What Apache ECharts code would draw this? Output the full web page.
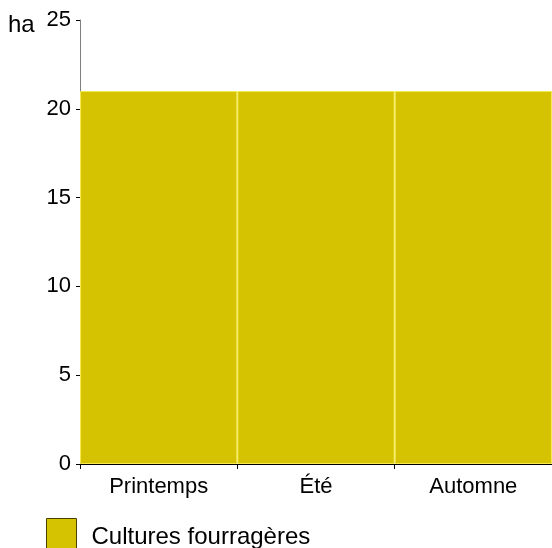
<!DOCTYPE html>
<html><head><meta charset="utf-8">
<script src="https://cdn.jsdelivr.net/npm/echarts@6/dist/echarts.min.js"></script>
<style>html,body{margin:0;padding:0;background:#fff}#c{width:552px;height:548px}</style>
</head><body><div id="c"></div>
<script>
const categories = ['Printemps', 'Été', 'Automne'];
const values = [21, 21, 21];
const seriesName = 'Cultures fourragères';
const yTicks = [0, 5, 10, 15, 20, 25];

const FF = 'Liberation Sans, Arial, sans-serif';
const chart = echarts.init(document.getElementById('c'), null, {renderer: 'canvas'});
chart.setOption({
  animation: false,
  textStyle: {fontFamily: FF},
  grid: {left: 80, right: 0, top: 20, bottom: 84, containLabel: false},
  graphic: [{type: 'text', left: 8, top: 13, style: {text: 'ha', font: '24px ' + FF, fill: '#000'}}],
  legend: {
    left: 46, top: 518, padding: 0, itemWidth: 30, itemHeight: 30, itemGap: 10,
    formatter: '{t|{name}}',
    textStyle: {fontSize: 24, color: '#000', fontFamily: FF, padding: [0, 0, 0, 10],
      rich: {t: {fontSize: 24, color: '#000', fontFamily: FF, padding: [8, 0, 0, 0]}}},
    data: [{name: seriesName, icon: 'rect', itemStyle: {borderColor: '#4a4200', borderWidth: 1}}]
  },
  xAxis: {
    type: 'category', data: categories,
    axisLine: {lineStyle: {color: '#000', width: 1}},
    axisTick: {show: true, alignWithLabel: false, length: 5, lineStyle: {color: '#000'}},
    axisLabel: {fontSize: 22, color: '#000', margin: 12}
  },
  yAxis: {
    type: 'value', min: yTicks[0], max: yTicks[yTicks.length - 1], interval: 5,
    axisLine: {show: true, lineStyle: {color: '#808080', width: 1}},
    axisTick: {show: true, length: 4, lineStyle: {color: '#000'}},
    axisLabel: {fontSize: 22, color: '#000', margin: 9},
    splitLine: {show: false}
  },
  series: [{
    name: seriesName, type: 'bar', data: values, barCategoryGap: '0%',
    itemStyle: {color: '#d5c200', borderColor: '#f5ea50', borderWidth: 1}
  }]
});
</script></body></html>
